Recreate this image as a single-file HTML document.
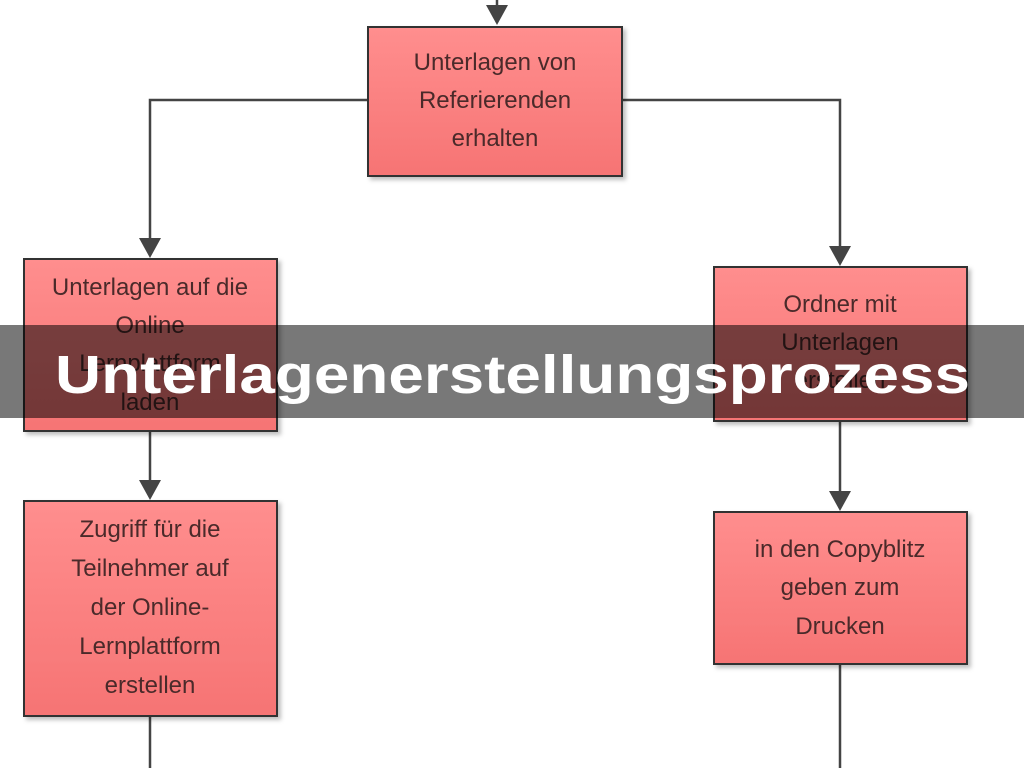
<!DOCTYPE html>
<html><head><meta charset="utf-8"><style>
html,body{margin:0;padding:0;width:1024px;height:768px;overflow:hidden;background:#fff}
</style></head><body>
<svg width="1024" height="768" xmlns="http://www.w3.org/2000/svg" style="position:absolute;left:0;top:0">
<defs>
<linearGradient id="g" x1="0" y1="0" x2="0" y2="1"><stop offset="0" stop-color="#ff8e8e"/><stop offset="1" stop-color="#f67474"/></linearGradient>
<filter id="s" x="-10%" y="-10%" width="130%" height="130%"><feDropShadow dx="3" dy="3" stdDeviation="2" flood-color="#000" flood-opacity="0.25"/></filter>
</defs>
<g stroke="#444" stroke-width="2.5" fill="none">
<line x1="497" y1="0" x2="497" y2="12"/>
<polyline points="368,100 150,100 150,240"/>
<polyline points="622,100 840,100 840,248"/>
<line x1="150" y1="431" x2="150" y2="482"/>
<line x1="840" y1="421" x2="840" y2="493"/>
<line x1="150" y1="716" x2="150" y2="768"/>
<line x1="840" y1="664" x2="840" y2="768"/>
</g>
<g fill="#444">
<polygon points="486,5 508,5 497,25"/>
<polygon points="139,238 161,238 150,258"/>
<polygon points="829,246 851,246 840,266"/>
<polygon points="139,480 161,480 150,500"/>
<polygon points="829,491 851,491 840,511"/>
</g>
<g fill="url(#g)" stroke="#333" stroke-width="2" filter="url(#s)">
<rect x="368" y="27" width="254" height="149"/>
<rect x="24" y="259" width="253" height="172"/>
<rect x="714" y="267" width="253" height="154"/>
<rect x="24" y="501" width="253" height="215"/>
<rect x="714" y="512" width="253" height="152"/>
</g>
<g font-family="Liberation Sans, sans-serif" font-size="24" fill="#4a2a2a" text-anchor="middle">
<text x="495" y="70">Unterlagen von</text>
<text x="495" y="108">Referierenden</text>
<text x="495" y="146">erhalten</text>
<text x="150" y="295">Unterlagen auf die</text>
<text x="150" y="333">Online</text>
<text x="150" y="371">Lernplattform</text>
<text x="150" y="410">laden</text>
<text x="840" y="312">Ordner mit</text>
<text x="840" y="350">Unterlagen</text>
<text x="840" y="388">erstellen</text>
<text x="150" y="537">Zugriff für die</text>
<text x="150" y="576">Teilnehmer auf</text>
<text x="150" y="615">der Online-</text>
<text x="150" y="654">Lernplattform</text>
<text x="150" y="693">erstellen</text>
<text x="840" y="557">in den Copyblitz</text>
<text x="840" y="595">geben zum</text>
<text x="840" y="634">Drucken</text>
</g>
<rect x="0" y="325" width="1024" height="93" fill="rgba(0,0,0,0.53)"/>
<text x="55" y="393" font-family="Liberation Sans, sans-serif" font-weight="bold" font-size="54" fill="#fff" textLength="915" lengthAdjust="spacingAndGlyphs">Unterlagenerstellungsprozess</text>
</svg>
</body></html>
